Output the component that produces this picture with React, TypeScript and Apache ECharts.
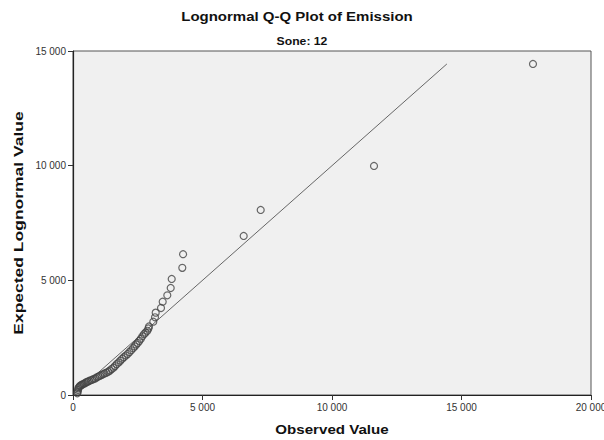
import React, { useEffect, useRef } from "react";
import * as echarts from "echarts";

// Sorted observed emission values and their expected lognormal quantiles
const observed = [
  166, 180, 195, 205, 230, 260, 290, 330, 370, 420, 470, 520, 570, 620, 680,
  740, 800, 860, 920, 980, 1040, 1100, 1160, 1220, 1290, 1360, 1420, 1490,
  1560, 1620, 1690, 1760, 1830, 1900, 1970, 2040, 2110, 2180, 2250, 2320,
  2380, 2440, 2500, 2560, 2620, 2680, 2740, 2800, 2870, 2910, 2935, 3100,
  3166, 3193, 3398, 3463, 3641, 3772, 3811, 4220, 4250, 6590, 7247, 11622,
  17760,
];
const expected = [
  74, 140, 220, 290, 340, 380, 410, 440, 465, 490, 520, 560, 585, 610, 640,
  665, 695, 725, 770, 805, 840, 870, 905, 940, 975, 1015, 1065, 1130, 1190,
  1260, 1345, 1420, 1500, 1580, 1650, 1720, 1790, 1870, 1950, 2040, 2120,
  2200, 2270, 2360, 2450, 2560, 2650, 2720, 2800, 2900, 2990, 3197, 3389,
  3590, 3794, 4069, 4347, 4666, 5059, 5545, 6140, 6934, 8068, 9987, 14435,
];
// Reference line y = x over the range of expected values
const refLine = [74, 14435];

const xTicks = { min: 0, max: 20000, interval: 5000 };
const yTicks = { min: 0, max: 15000, interval: 5000 };

const titleText = "Lognormal Q-Q Plot of Emission";
const subtitleText = "Sone: 12";
const xName = "Observed Value";
const yName = "Expected Lognormal Value";

const FONT = "'Liberation Sans', Arial, sans-serif";

const fmt = (v: number) =>
  String(Math.round(v)).replace(/\B(?=(\d{3})+(?!\d))/g, " ");

// Bold, horizontally widened label drawn as a graphic text element
const wideText = (
  text: string,
  x: number,
  y: number,
  fontSize: number,
  scaleX: number,
  rotation = 0
) => ({
  type: "text",
  x,
  y,
  rotation,
  scaleX,
  scaleY: 1,
  silent: true,
  style: {
    text,
    fontFamily: FONT,
    fontWeight: "bold",
    fontSize,
    fill: "#111",
    align: "center",
    verticalAlign: "middle",
  },
});

export default function App() {
  const ref = useRef<HTMLDivElement>(null);

  useEffect(() => {
    if (!ref.current) return;
    const chart = echarts.init(ref.current, undefined, { renderer: "svg" });
    const points = observed.map((x, i) => [x, expected[i]]);
    const axisCommon = {
      type: "value" as const,
      axisLine: { show: true, lineStyle: { color: "#222", width: 1.2 } },
      axisTick: { show: true, inside: false, length: 5, lineStyle: { color: "#333" } },
      axisLabel: {
        fontFamily: FONT,
        fontSize: 10,
        color: "#333",
        margin: 7,
        formatter: (v: number) => fmt(v),
      },
      splitLine: { show: false },
    };
    chart.setOption({
      animation: false,
      backgroundColor: "#ffffff",
      grid: {
        left: 73,
        right: 13,
        top: 51,
        bottom: 45,
        outerBoundsMode: "none",
        containLabel: false,
        show: true,
        backgroundColor: "#f0f0f0",
        borderColor: "#555",
        borderWidth: 1,
      },
      xAxis: {
        ...axisCommon,
        min: xTicks.min,
        max: xTicks.max,
        interval: xTicks.interval,
      },
      yAxis: {
        ...axisCommon,
        min: yTicks.min,
        max: yTicks.max,
        interval: yTicks.interval,
      },
      graphic: [
        wideText(titleText, 297, 17, 12.5, 1.2),
        wideText(subtitleText, 302, 41.5, 10, 1.22),
        wideText(xName, 332, 430, 12, 1.26),
        wideText(yName, 18, 223, 12.5, 1.4, Math.PI / 2),
      ],
      series: [
        {
          type: "line",
          data: [
            [refLine[0], refLine[0]],
            [refLine[1], refLine[1]],
          ],
          symbol: "none",
          lineStyle: { color: "#666", width: 1 },
          z: 1,
        },
        {
          type: "scatter",
          data: points,
          symbol: "circle",
          symbolSize: 7,
          itemStyle: {
            color: "rgba(0,0,0,0)",
            borderColor: "#444",
            borderWidth: 1.2,
          },
          z: 2,
        },
      ],
    });
    return () => chart.dispose();
  }, []);

  return (
    <div
      ref={ref}
      style={{ position: "fixed", left: 0, top: 0, width: 604, height: 440 }}
    />
  );
}
